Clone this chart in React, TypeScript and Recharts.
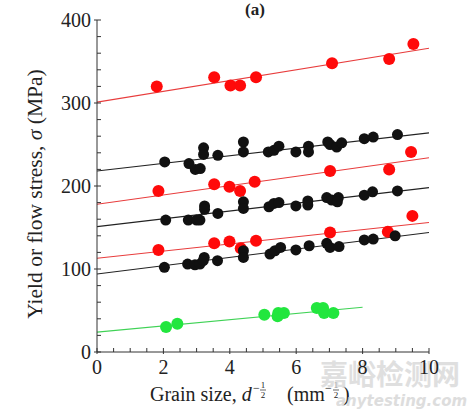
import {
  ComposedChart,
  Line,
  Scatter,
  XAxis,
  YAxis,
  Customized,
} from "recharts";

// tick values
const X_TICKS = [0, 0.5, 1, 1.5, 2, 2.5, 3, 3.5, 4, 4.5, 5, 5.5, 6, 6.5, 7, 7.5, 8, 8.5, 9, 9.5, 10];
const Y_TICKS = [0, 20, 40, 60, 80, 100, 120, 140, 160, 180, 200, 220, 240, 260, 280, 300, 320, 340, 360, 380, 400];

// measured points, grain size d^-1/2 vs stress (MPa)
const redAX = [1.8, 3.53, 4.02, 4.31, 4.79, 7.08, 8.8, 9.53];
const redAY = [320, 331, 321, 321, 331, 348, 353, 371];

const blackAX = [2.04, 2.77, 2.96, 3.11, 3.21, 3.21, 3.64, 4.41, 4.41, 5.16, 5.33, 5.48, 5.99, 6.37, 6.37, 6.95, 7.02, 7.22, 7.37, 8.05, 8.32, 9.05];
const blackAY = [229, 227, 220, 221, 246, 238, 237, 253, 241, 241, 243, 248, 241, 248, 241, 253, 250, 247, 252, 257, 259, 262];

const redBX = [1.85, 3.53, 3.99, 4.31, 4.75, 7.02, 8.8, 9.46];
const redBY = [194, 202, 199, 194, 205, 218, 220, 241];

const blackBX = [2.07, 2.75, 3.0, 3.1, 3.24, 3.24, 3.64, 4.41, 4.41, 5.18, 5.33, 5.48, 5.99, 6.35, 6.35, 6.92, 7.07, 7.27, 7.24, 8.05, 8.3, 9.05];
const blackBY = [159, 159, 159, 159, 176, 172, 167, 181, 173, 175, 179, 180, 176, 177, 182, 186, 183, 186, 181, 189, 193, 194];

const redCX = [1.85, 3.53, 3.99, 4.33, 4.79, 7.02, 8.76, 9.5];
const redCY = [123, 131, 133, 125, 134, 144, 145, 164];

const blackCX = [2.03, 2.73, 2.95, 3.1, 3.23, 3.2, 3.63, 4.41, 4.41, 5.21, 5.36, 5.53, 5.99, 6.39, 6.92, 7.02, 7.29, 8.05, 8.32, 8.98];
const blackCY = [102, 106, 105, 106, 114, 110, 110, 122, 114, 118, 122, 126, 123, 128, 131, 126, 127, 135, 136, 140];

const greenX = [2.08, 2.42, 5.04, 5.44, 5.46, 5.63, 6.62, 6.81, 6.84, 7.12];
const greenY = [30, 34, 45, 43, 47, 47, 53, 53, 47, 47];

// fitted lines: [start, end] as x and y
const fitRedAX = [0, 10];
const fitRedAY = [301, 366];
const fitBlackAX = [0, 10];
const fitBlackAY = [218, 264];
const fitRedBX = [0, 10];
const fitRedBY = [178, 234];
const fitBlackBX = [0, 10];
const fitBlackBY = [151, 198];
const fitRedCX = [0, 10];
const fitRedCY = [113, 156];
const fitBlackCX = [0, 10];
const fitBlackCY = [94, 144];
const fitGreenX = [0, 8];
const fitGreenY = [24, 54];

const zip = (xs: number[], ys: number[]) => xs.map((x, i) => ({ x, y: ys[i] }));

const RED = "#ff0a0a";
const BLACK = "#111";
const GREEN = "#22e63e";
const TEXT = "#222";
const SERIF = "'Liberation Serif', 'Times New Roman', serif";

const series = [
  { pts: zip(redAX, redAY), fit: zip(fitRedAX, fitRedAY), color: RED, line: "#e83c3c", r: 6 },
  { pts: zip(blackAX, blackAY), fit: zip(fitBlackAX, fitBlackAY), color: BLACK, line: "#222", r: 5.5 },
  { pts: zip(redBX, redBY), fit: zip(fitRedBX, fitRedBY), color: RED, line: "#e83c3c", r: 6 },
  { pts: zip(blackBX, blackBY), fit: zip(fitBlackBX, fitBlackBY), color: BLACK, line: "#222", r: 5.5 },
  { pts: zip(redCX, redCY), fit: zip(fitRedCX, fitRedCY), color: RED, line: "#e83c3c", r: 6 },
  { pts: zip(blackCX, blackCY), fit: zip(fitBlackCX, fitBlackCY), color: BLACK, line: "#222", r: 5.5 },
  { pts: zip(greenX, greenY), fit: zip(fitGreenX, fitGreenY), color: GREEN, line: "#3fd255", r: 6 },
];

function XTick(props: any) {
  const { x, y, payload } = props;
  const v = payload.value;
  const major = v % 2 === 0;
  return (
    <g>
      <line x1={x} x2={x} y1={y + (major ? 2 : 0)} y2={y - 4} stroke="#333" strokeWidth={1} />
      {major && (
        <text x={x} y={y + 22} textAnchor="middle" fontSize={20} fontFamily={SERIF} fill={TEXT}>
          {v}
        </text>
      )}
    </g>
  );
}

function YTick(props: any) {
  const { x, y, payload } = props;
  const v = payload.value;
  const major = v % 100 === 0;
  return (
    <g>
      <line x1={x - (major ? 3 : 0)} x2={x + 4} y1={y} y2={y} stroke="#333" strokeWidth={1} />
      {major && (
        <text x={x - 6} y={y + 7} textAnchor="end" fontSize={20} fontFamily={SERIF} fill={TEXT}>
          {v}
        </text>
      )}
    </g>
  );
}

function Frac({ x, y }: { x: number; y: number }) {
  return (
    <g fontFamily={SERIF} fill={TEXT} fontSize={9}>
      <text x={x} y={y} textAnchor="middle">1</text>
      <line x1={x - 3} x2={x + 3} y1={y + 2} y2={y + 2} stroke={TEXT} strokeWidth={0.7} />
      <text x={x} y={y + 10} textAnchor="middle">2</text>
    </g>
  );
}

function Titles() {
  return (
    <g>
      <text x={255} y={15} textAnchor="middle" fontSize={17} fontWeight="bold" fontFamily={SERIF} fill={TEXT}>
        (a)
      </text>
      <text
        transform="translate(42,194) rotate(-90)"
        textAnchor="middle"
        fontSize={21.5}
        fontFamily={SERIF}
        fill={TEXT}
      >
        Yield or flow stress, <tspan fontStyle="italic">σ</tspan> (MPa)
      </text>
      <text x={150} y={401} fontSize={20} fontFamily={SERIF} fill={TEXT}>
        Grain size, <tspan fontStyle="italic">d</tspan>
      </text>
      <text x={253} y={392} fontSize={12} fontFamily={SERIF} fill={TEXT}>−</text>
      <Frac x={263} y={388} />
      <text x={287} y={401} fontSize={20} fontFamily={SERIF} fill={TEXT}>(mm</text>
      <text x={325} y={392} fontSize={12} fontFamily={SERIF} fill={TEXT}>−</text>
      <Frac x={336} y={388} />
      <text x={343} y={401} fontSize={20} fontFamily={SERIF} fill={TEXT}>)</text>
      <text x={320} y={385} fontSize={28} fontWeight="bold" fontFamily="'Noto Sans CJK SC', sans-serif" fill="#d8d8d8" opacity={0.8}>
        嘉峪检测网
      </text>
      <text x={336} y={406} fontSize={15} fontWeight="bold" fontStyle="italic" fontFamily="'DejaVu Sans', sans-serif" fill="#d0d0d0" opacity={0.7}>
        anytesting.com
      </text>
    </g>
  );
}

export default function App() {
  return (
    <div style={{ position: "absolute", left: 0, top: 0, width: 470, height: 417, background: "#fff" }}>
      <ComposedChart width={470} height={417} margin={{ top: 20, right: 41, bottom: 64, left: 96 }}>
        <XAxis
          type="number"
          dataKey="x"
          domain={[0, 10]}
          ticks={X_TICKS}
          interval={0}
          height={1}
          tickSize={0}
          tickMargin={0}
          tickLine={false}
          axisLine={{ stroke: "#333" }}
          tick={XTick}
          allowDataOverflow
        />
        <YAxis
          type="number"
          dataKey="y"
          domain={[0, 400]}
          ticks={Y_TICKS}
          interval={0}
          width={1}
          tickSize={0}
          tickMargin={0}
          tickLine={false}
          axisLine={{ stroke: "#333" }}
          tick={YTick}
          allowDataOverflow
        />
        {series.map((s, i) => (
          <Line
            key={`fit-${i}`}
            data={s.fit}
            dataKey="y"
            type="linear"
            stroke={s.line}
            strokeWidth={1.1}
            dot={false}
            activeDot={false}
            isAnimationActive={false}
          />
        ))}
        {series.map((s, i) => (
          <Scatter
            key={`pts-${i}`}
            data={s.pts}
            dataKey="y"
            fill={s.color}
            isAnimationActive={false}
            shape={(p: any) => <circle cx={p.cx} cy={p.cy} r={s.r} fill={s.color} />}
          />
        ))}
        <Customized component={Titles} />
      </ComposedChart>
    </div>
  );
}
